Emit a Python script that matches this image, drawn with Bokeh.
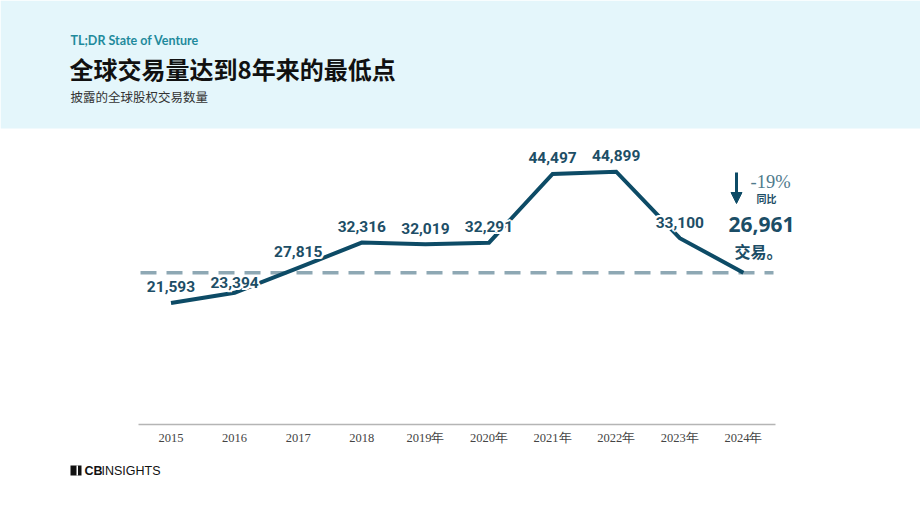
from bokeh.plotting import figure
from bokeh.models import Range1d, Arrow, NormalHead
from bokeh.core.properties import value
from bokeh.embed import file_html
from bokeh.resources import INLINE

# ---- data ----
years = [2015, 2016, 2017, 2018, 2019, 2020, 2021, 2022, 2023, 2024]
year_labels = ["2015", "2016", "2017", "2018", "2019年", "2020年", "2021年", "2022年", "2023年", "2024年"]
deals = [21593, 23394, 27815, 32316, 32019, 32291, 44497, 44899, 33100, 26961]
deal_labels = ["21,593", "23,394", "27,815", "32,316", "32,019", "32,291", "44,497", "44,899", "33,100", ""]
yoy_label = "-19%"
latest_label = "26,961"

title_kicker = "TL;DR State of Venture"
title = "全球交易量达到8年来的最低点"
subtitle = "披露的全球股权交易数量"

# ---- layout helpers (canvas pixels -> data) ----
W, H = 920, 518
X0_PX, DX_PX = 170.5, 63.6          # pixel of first year, pixels per year
Y0_PX, KY = 424.0, 0.005630         # pixel of zero, pixels per deal

def px(xp):
    return (xp - X0_PX) / DX_PX

def py(yp):
    return (Y0_PX - yp) / KY

xs = list(range(len(years)))

p = figure(width=W, height=H, output_backend="svg", toolbar_location=None,
           x_range=Range1d(px(0), px(W)), y_range=Range1d(py(H), py(0)),
           x_axis_type=None, y_axis_type=None, min_border=0)
p.grid.visible = False
p.outline_line_color = None
p.background_fill_color = "white"
p.border_fill_color = "white"

# header band
p.quad(left=px(0), right=px(W), top=py(0), bottom=py(128), color="#e4f6fb", line_color=None)
p.text(x=[px(70)], y=[py(40)], text=[title_kicker], text_font=value("Lato"),
       text_font_style="bold", text_font_size="12.5px", text_color="#1f8a9c",
       text_baseline="middle", text_align="left")
p.text(x=[px(69)], y=[py(68)], text=[title], text_font=value("Noto Sans CJK SC"),
       text_font_style="bold", text_font_size="24px", text_color="#111111",
       text_baseline="middle", text_align="left")
p.text(x=[px(70)], y=[py(96)], text=[subtitle], text_font=value("Noto Sans CJK SC"),
       text_font_size="12.5px", text_color="#333333",
       text_baseline="middle", text_align="left")

# axis line and tick labels
p.segment(x0=px(138), x1=px(775), y0=0, y1=0, line_color="#b5b5b5", line_width=1.5)
p.text(x=xs, y=[py(437)] * len(xs), text=year_labels, text_font=value("Liberation Serif"),
       text_font_size="12.5px", text_color="#444444", text_baseline="middle", text_align="center")

# reference dashed line at latest value
p.segment(x0=px(140), x1=px(773), y0=deals[-1], y1=deals[-1], line_color="#8ea8b4",
          line_width=3.5, line_dash="16 10")

# main line
p.line(xs, deals, line_color="#0d4b66", line_width=4, line_join="miter")

# value labels (white halo behind, then text)
offsets = [16, 10, 16, 16, 16, 16, 16, 16, 16, 16]
halo = [(-2, 0), (2, 0), (0, -2), (0, 2), (-1.5, -1.5), (1.5, -1.5), (-1.5, 1.5), (1.5, 1.5)]
lab_x = [x for x, lab in zip(xs, deal_labels) if lab]
lab_y = [v for v, lab in zip(deals, deal_labels) if lab]
lab_t = [lab for lab in deal_labels if lab]
lab_off = [-o for o, lab in zip(offsets, deal_labels) if lab]
for hx, hy in halo:
    p.text(x=lab_x, y=lab_y, text=lab_t, x_offset=hx, y_offset=[o + hy for o in lab_off],
           text_font=value("Roboto"), text_font_style="bold", text_font_size="15.5px",
           text_color="white", text_baseline="middle", text_align="center")
p.text(x=lab_x, y=lab_y, text=lab_t, y_offset=lab_off, text_font=value("Roboto"),
       text_font_style="bold", text_font_size="15.5px", text_color="#1d4e66",
       text_baseline="middle", text_align="center")

# annotation for latest year
p.add_layout(Arrow(end=NormalHead(size=11, fill_color="#0d4b66", line_color="#0d4b66"),
                   x_start=px(736), y_start=py(172), x_end=px(736), y_end=py(203),
                   line_color="#0d4b66", line_width=3))
p.text(x=[px(770)], y=[py(181)], text=[yoy_label], text_font=value("Liberation Serif"),
       text_font_size="18.5px", text_color="#4f7a8c", text_baseline="middle", text_align="center")
p.text(x=[px(766)], y=[py(198)], text=["同比"], text_font=value("Noto Sans CJK SC"),
       text_font_style="bold", text_font_size="10px", text_color="#1d4e66",
       text_baseline="middle", text_align="center")
p.text(x=[px(761)], y=[py(224)], text=[latest_label], text_font=value("Noto Sans"),
       text_font_style="bold", text_font_size="21px", text_color="#1b4d66",
       text_baseline="middle", text_align="center")
p.text(x=[px(758)], y=[py(250)], text=["交易。"], text_font=value("Noto Sans CJK SC"),
       text_font_style="bold", text_font_size="16px", text_color="#1b4d66",
       text_baseline="middle", text_align="center")

# logo
p.quad(left=px(70), right=px(81), top=py(465), bottom=py(475), color="#111111", line_color=None)
p.quad(left=px(76), right=px(77.5), top=py(465), bottom=py(475), color="white", line_color=None)
p.text(x=[px(84)], y=[py(470)], text=["CB"], text_font=value("Liberation Sans"),
       text_font_style="bold", text_font_size="12.5px", text_color="#111111",
       text_baseline="middle", text_align="left")
p.text(x=[px(101)], y=[py(470)], text=["INSIGHTS"], text_font=value("Liberation Sans"),
       text_font_size="12.5px", text_color="#111111",
       text_baseline="middle", text_align="left")

open("out.html", "w").write(file_html(p, INLINE))
